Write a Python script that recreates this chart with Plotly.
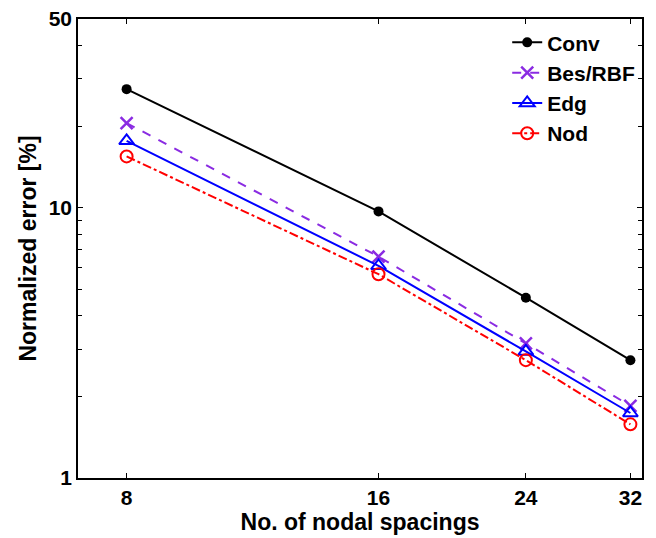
import plotly.graph_objects as go

spacings = [8, 16, 24, 32]
conv = [27.5, 9.7, 4.65, 2.73]
bes_rbf = [20.6, 6.6, 3.15, 1.85]
edg = [17.7, 6.1, 2.94, 1.74]
nod = [15.5, 5.68, 2.73, 1.58]

y_ticks = [1, 10, 50]
y_minor = [2, 3, 4, 5, 6, 7, 8, 9, 20, 30, 40]

FONT = 'Liberation Sans, Arial, sans-serif'

fig = go.Figure()
fig.add_trace(go.Scatter(x=spacings, y=conv, name='<b>Conv</b>', mode='lines+markers',
                         line=dict(color='black', width=2),
                         marker=dict(symbol='circle', size=10, color='black')))
fig.add_trace(go.Scatter(x=spacings, y=bes_rbf, name='<b>Bes/RBF</b>', mode='lines+markers',
                         line=dict(color='#8a2be2', width=2, dash='dash'),
                         marker=dict(symbol='x-thin-open', size=12,
                                     line=dict(color='#8a2be2', width=2.5))))
fig.add_trace(go.Scatter(x=spacings, y=edg, name='<b>Edg</b>', mode='lines+markers',
                         line=dict(color='#0000ff', width=2),
                         marker=dict(symbol='triangle-up-open', size=13,
                                     line=dict(color='#0000ff', width=2))))
fig.add_trace(go.Scatter(x=spacings, y=nod, name='<b>Nod</b>', mode='lines+markers',
                         line=dict(color='#ff0000', width=2, dash='dashdot'),
                         marker=dict(symbol='circle-open', size=12,
                                     line=dict(color='#ff0000', width=2))))

fig.update_xaxes(type='log', range=[0.845, 1.519], tickvals=spacings,
                 ticktext=['<b>%d</b>' % s for s in spacings],
                 ticks='inside', ticklen=5, tickcolor='black', automargin=False,
                 showline=True, linecolor='black', linewidth=1.5, mirror='ticks',
                 showgrid=False, zeroline=False,
                 tickfont=dict(family=FONT, size=21, color='black'),
                 title=dict(text='<b>No. of nodal spacings</b>', standoff=1,
                            font=dict(family=FONT, size=23, color='black')))
fig.update_yaxes(type='log', range=[0, 1.699], tickvals=y_ticks,
                 ticktext=['<b>%d</b>' % v for v in y_ticks],
                 ticks='inside', ticklen=5, tickcolor='black', automargin=False,
                 ticklabeloverflow='allow',
                 minor=dict(tickvals=y_minor, ticks='inside', ticklen=4, tickcolor='black'),
                 showline=True, linecolor='black', linewidth=1.5, mirror='ticks',
                 showgrid=False, zeroline=False,
                 tickfont=dict(family=FONT, size=21, color='black'),
                 title=dict(text='<b>Normalized error [%]</b>', standoff=6,
                            font=dict(family=FONT, size=23, color='black')))

# page body has an 8px margin, so the figure is 16px smaller than the window
fig.update_layout(width=640, height=530, plot_bgcolor='white', paper_bgcolor='white',
                  margin=dict(l=70, r=6, t=11, b=60),
                  legend=dict(x=0.761, y=0.993, xanchor='left', yanchor='top',
                              bgcolor='rgba(0,0,0,0)', tracegroupgap=0,
                              font=dict(family=FONT, size=21, color='black')))

fig.write_html('out.html')
